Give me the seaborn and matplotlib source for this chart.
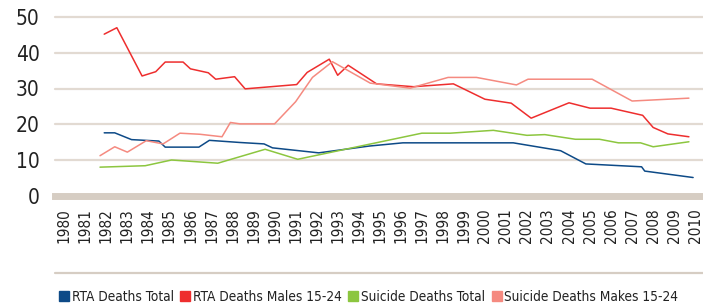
import seaborn as sns
import matplotlib.pyplot as plt
import matplotlib.lines as mlines
import pandas as pd

# values (decimal years)
rta_total_x = [1981.9, 1982.4, 1983.2, 1984.5, 1984.8, 1986.4, 1986.9, 1988.35, 1989.5, 1989.9,
               1992.1, 1994.5, 1996.1, 2001.35, 2003.6, 2004.8, 2007.45, 2007.6, 2009.9]
rta_total_y = [17.6, 17.6, 15.7, 15.3, 13.6, 13.6, 15.5, 14.9, 14.5, 13.4,
               12.0, 13.9, 14.8, 14.8, 12.6, 8.9, 8.1, 6.9, 5.1]

rta_males_x = [1981.9, 1982.5, 1983.7, 1984.35, 1984.8, 1985.65, 1986.0, 1986.85, 1987.2, 1988.1,
               1988.6, 1991.05, 1991.55, 1992.6, 1993.0, 1993.5, 1994.85, 1996.6, 1998.5, 2000.0,
               2001.25, 2002.2, 2004.0, 2005.0, 2006.0, 2007.5, 2008.0, 2008.7, 2009.7]
rta_males_y = [45.2, 47.0, 33.5, 34.7, 37.4, 37.4, 35.5, 34.4, 32.6, 33.3,
               29.9, 31.1, 34.5, 38.2, 33.7, 36.5, 31.3, 30.5, 31.3, 27.0,
               25.9, 21.7, 26.0, 24.5, 24.5, 22.5, 19.1, 17.3, 16.5]

suicide_total_x = [1981.7, 1983.85, 1985.1, 1987.3, 1989.55, 1991.1, 1997.0, 1998.35, 2000.4,
                   2002.0, 2002.85, 2004.3, 2005.45, 2006.35, 2007.4, 2008.0, 2009.7]
suicide_total_y = [8.0, 8.4, 10.0, 9.1, 13.0, 10.2, 17.5, 17.5, 18.3,
                   16.9, 17.1, 15.8, 15.8, 14.8, 14.8, 13.7, 15.1]

suicide_males_x = [1981.7, 1982.4, 1983.0, 1983.9, 1984.7, 1985.5, 1986.45, 1987.5, 1987.9, 1988.35,
                   1990.0, 1991.0, 1991.8, 1992.75, 1994.55, 1996.45, 1998.25, 1999.6, 2001.5,
                   2002.05, 2005.1, 2007.0, 2009.7]
suicide_males_y = [11.2, 13.7, 12.2, 15.4, 14.5, 17.5, 17.2, 16.5, 20.5, 20.1,
                   20.1, 26.3, 33.1, 37.5, 31.5, 30.1, 33.1, 33.1, 31.0,
                   32.6, 32.6, 26.5, 27.3]

labels = ["RTA Deaths Total", "RTA Deaths Males 15-24",
          "Suicide Deaths Total", "Suicide Deaths Makes 15-24"]
colors = ["#0d4a87", "#ee2e2e", "#8cc63f", "#f58a80"]
years = list(range(1980, 2011))
yticks = [0, 10, 20, 30, 40, 50]

frames = []
for lab, xs, ys in zip(labels,
                       [rta_total_x, rta_males_x, suicide_total_x, suicide_males_x],
                       [rta_total_y, rta_males_y, suicide_total_y, suicide_males_y]):
    frames.append(pd.DataFrame({"year": xs, "value": ys, "series": lab}))
df = pd.concat(frames, ignore_index=True)

sns.set_style("white")
plt.rcParams['font.family'] = ['DejaVu Sans']
plt.rcParams['font.stretch'] = 'condensed'

fig = plt.figure(figsize=(7.03, 3.05), dpi=100)
ax = fig.add_axes([55 / 703, (305 - 195.75) / 305, 648 / 703, 178.75 / 305])

grid = "#e2dad2"
band = "#d6cdc3"
for v in yticks[1:]:
    ax.axhline(v, color=grid, lw=1.6, zorder=0, clip_on=False)

sns.lineplot(data=df, x="year", y="value", hue="series", hue_order=labels,
             palette=colors, estimator=None, sort=False, lw=1.1, legend=False, ax=ax)

ax.set_xlim(1979.56, 2010.37)
ax.set_ylim(0, 50)
ax.set_yticks(yticks)
ax.set_yticklabels([str(v) for v in yticks], fontsize=15, color="#222222")
ax.set_xticks(years)
ax.set_xticklabels([str(y) for y in years], rotation=90, fontsize=11, color="#222222")
ax.set_xlabel("")
ax.set_ylabel("")
for s in ["top", "right", "left"]:
    ax.spines[s].set_visible(False)
ax.spines["bottom"].set_color(band)
ax.spines["bottom"].set_linewidth(5)
ax.tick_params(axis="y", length=0, pad=11)
ax.tick_params(axis="x", length=4, width=0.8, color="#cfc6bc", direction="out", pad=5)

# separator line above legend
fig.add_artist(mlines.Line2D([55 / 703, 1.0], [(305 - 272.7) / 305] * 2,
                             color=band, lw=1.6))

handles = [mlines.Line2D([], [], color=c, marker="s", ls="", markersize=7) for c in colors]
fig.legend(handles, labels, loc="center left", bbox_to_anchor=(52 / 703, (305 - 297) / 305),
           ncol=4, frameon=False, fontsize=9.8, handletextpad=0.05, columnspacing=0.35,
           handlelength=1.0, borderaxespad=0, labelcolor="#222222")

fig.savefig("out.png", dpi=100)
